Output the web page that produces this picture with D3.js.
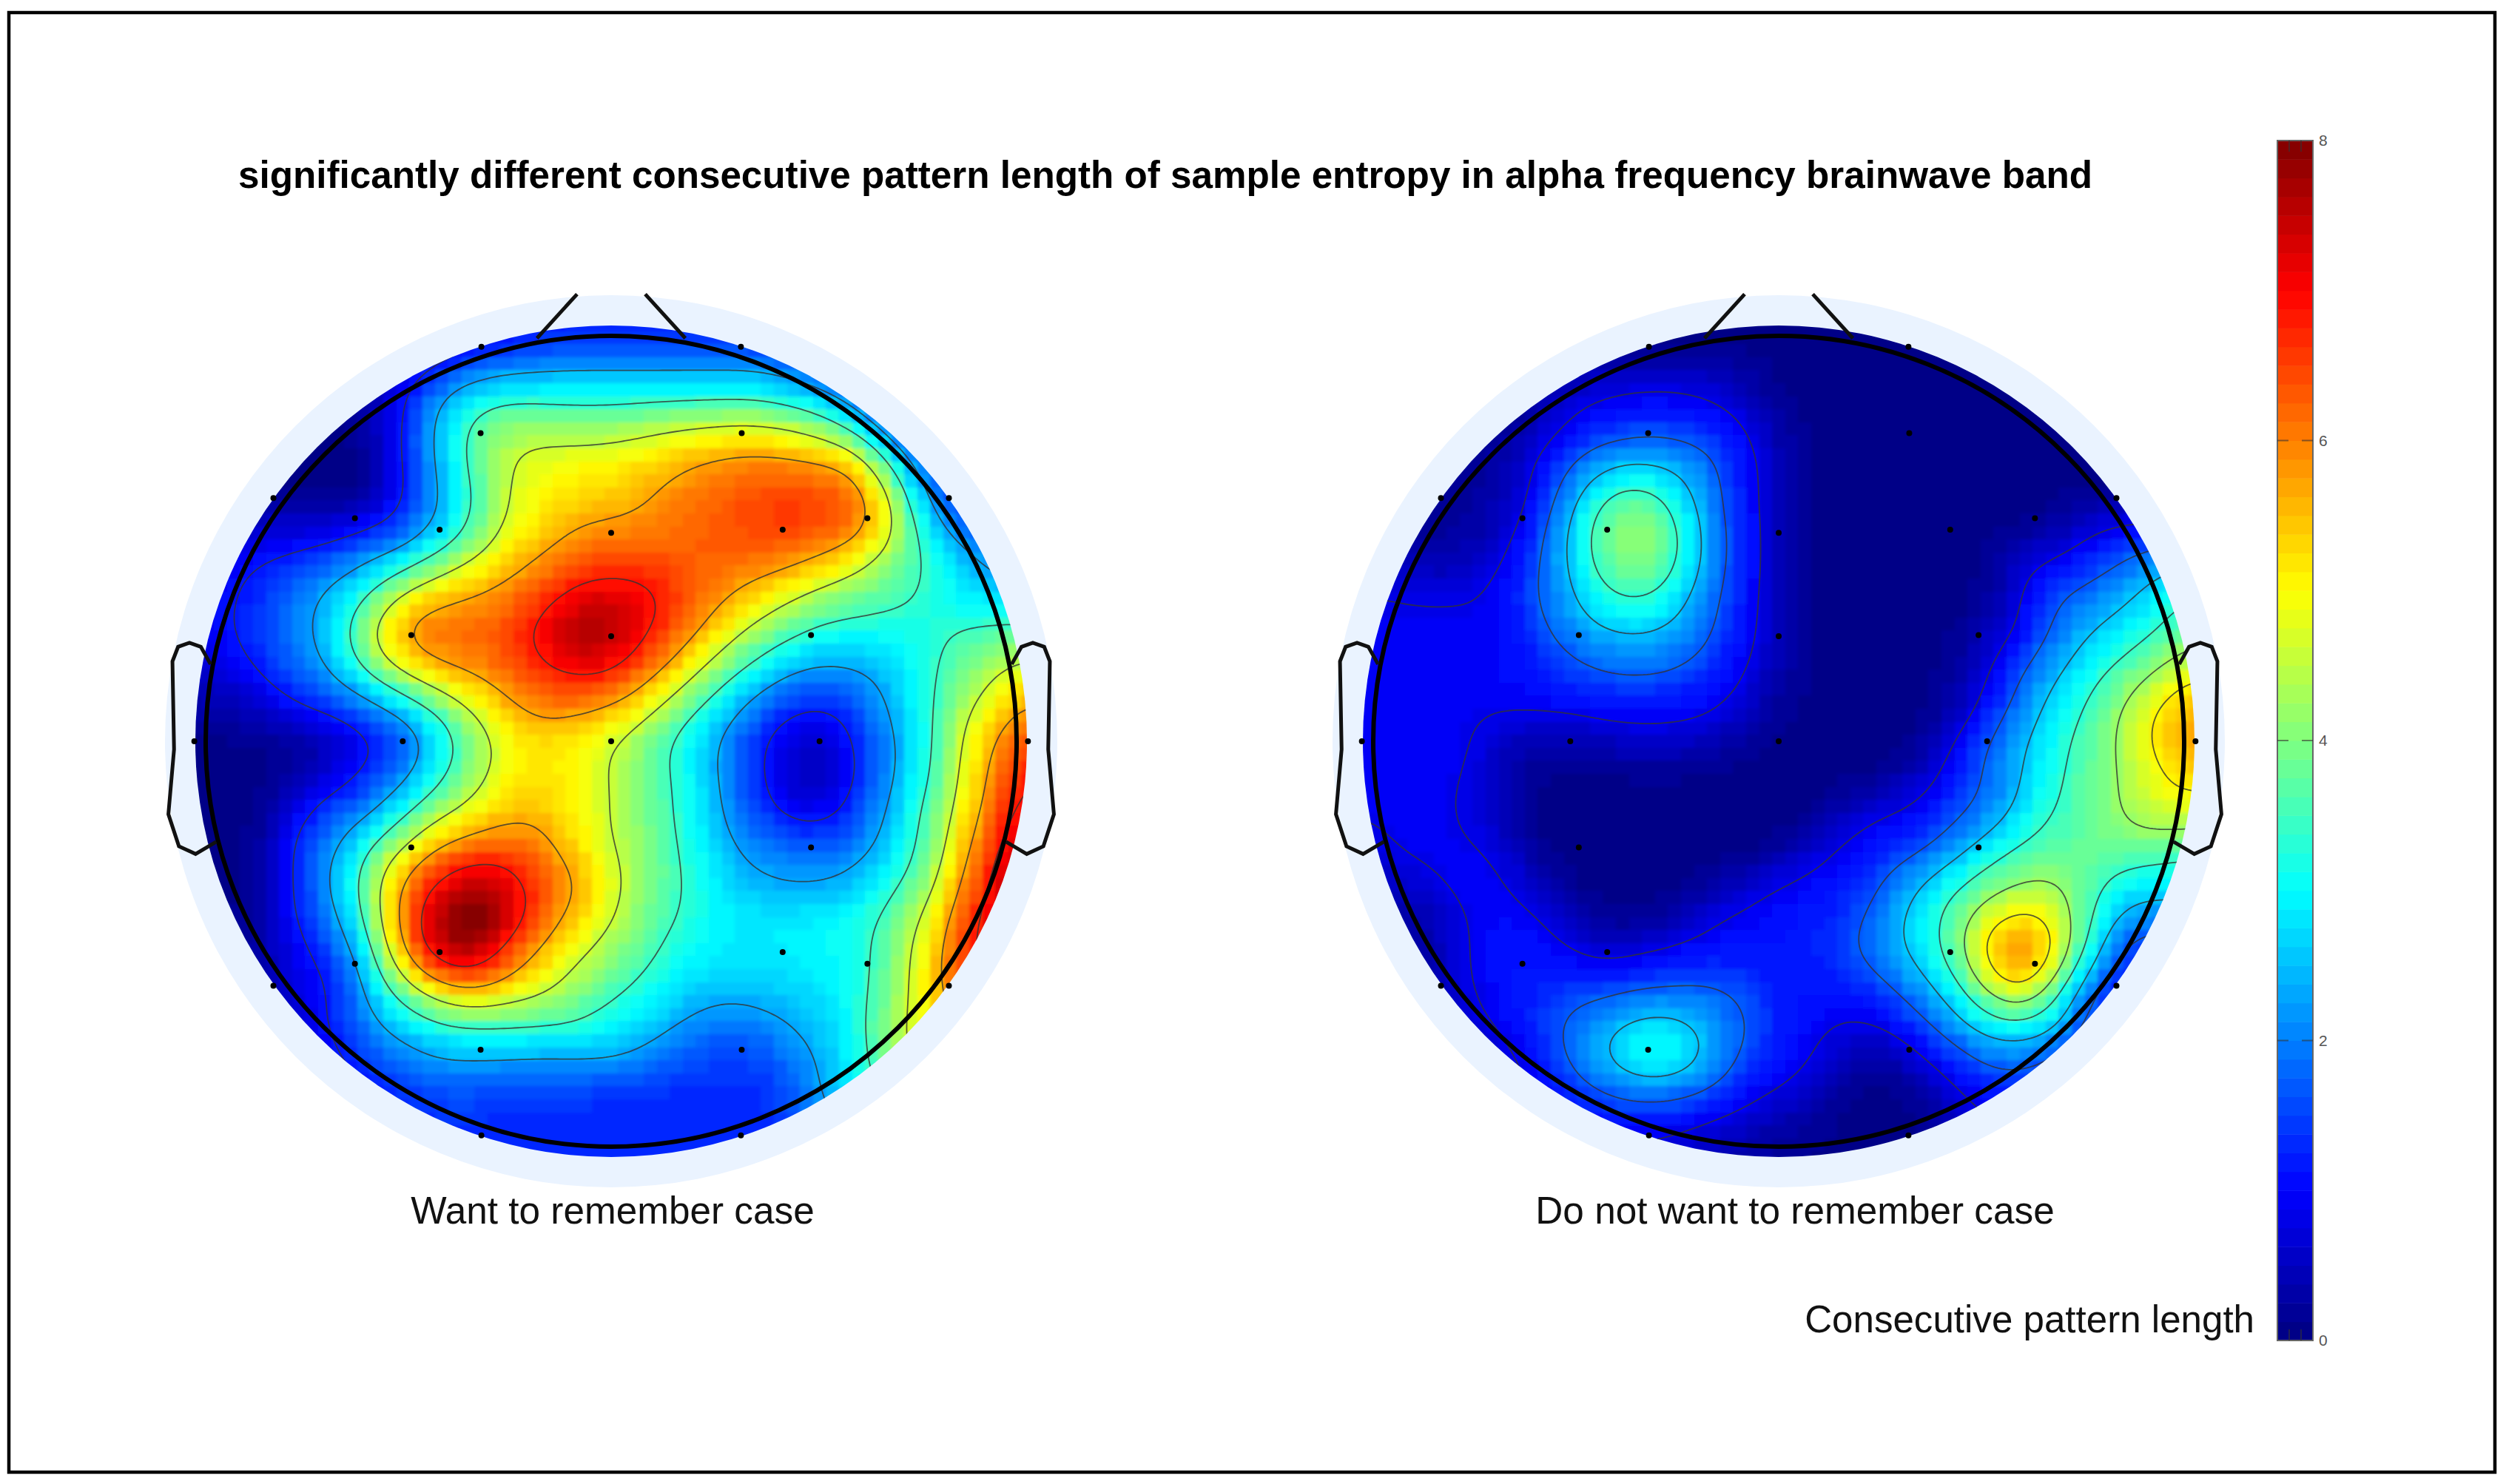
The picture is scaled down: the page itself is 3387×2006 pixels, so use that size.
<!DOCTYPE html>
<html>
<head>
<meta charset="utf-8">
<script src="https://cdnjs.cloudflare.com/ajax/libs/d3/7.8.5/d3.min.js"></script>
<style>
html, body { margin: 0; padding: 0; background: #fff; }
text { font-family: "Liberation Sans", Arial, sans-serif; }
</style>
</head>
<body>
<div id="chart"></div>
<script>
const titleText = 'significantly different consecutive pattern length of sample entropy in alpha frequency brainwave band';
const panelNames = ['Want to remember case', 'Do not want to remember case'];
const colorbarLabel = 'Consecutive pattern length';
const colorbarTicks = [0, 2, 4, 6, 8];

// contour levels of each map
const wantLevels = [1.14, 2.29, 3.43, 4.57, 5.71, 6.86];
const dontLevels = [0.84, 1.69, 2.53, 3.37, 4.2, 5.06];

// electrode positions, in head radii
const elecX = [-.32, .32, -.833, .833, -.632, .632, -.322, .322, -.423, .423, 0, -.493, .493, 0, -1.028, -.514, 0, .514, 1.028, -.493, .493, -.632, .632, -.423, .423, -.833, .833, -.322, .322, -.32, .32];
const elecY = [.973, .973, .6, .6, .55, .55, .76, .76, .522, .522, .514, .262, .262, .259, 0, 0, 0, 0, 0, -.262, -.262, -.549, -.549, -.52, -.52, -.603, -.603, -.761, -.761, -.972, -.972];

// values on a 25 x 25 lattice, top row first
const wantRows = [
  [.3,.3,.3,.3,.3,.3,.3,.4,.8,.9,1,1.1,1.1,1.1,1.1,1.1,1,.9,.9,.9,.9,.9,.9,.9,.9],
  [.2,.2,.2,.2,.2,.2,.3,.7,1.1,1.4,1.6,1.7,1.7,1.7,1.7,1.7,1.7,1.5,1.2,1,.9,.9,.9,.9,.9],
  [.1,.1,.1,.1,.1,.2,.9,2,2.7,3,3,3,3,3,3,3,3,2.7,2.2,1.6,1.1,.9,.9,.9,.9],
  [.1,.1,.1,.1,.1,.2,1,2.4,3.6,4.2,4.1,4,4,4.2,4.4,4.5,4.6,4.4,3.9,2.7,1.4,1,.9,.9,.9],
  [.05,.05,.05,.05,.05,.1,1.1,2.3,3.7,4.5,4.9,5,5.1,5.3,5.6,5.9,6,5.9,5.7,5.4,2.9,1.6,1.2,1,1],
  [.1,.1,.1,.1,.05,.1,.9,2.2,3.3,4.6,5,5.2,5.3,5.6,6,6.2,6.4,6.6,6.5,6.2,4.6,1.9,1.3,1.2,1],
  [.6,.6,.6,.7,.7,1.1,1.5,2.4,3.5,4.8,5.2,5.8,5.9,6,6.2,6.3,6.5,6.6,6.4,6.2,4.7,3,1.7,1.9,1.9],
  [.8,.9,1.2,1.4,1.8,2.4,3,4,4.8,5.4,5.9,6.4,6.6,6.5,6.3,6.2,6.1,5.9,5.4,4.7,3.9,3.4,2.7,2,2],
  [.9,1,1.4,1.9,2.6,3.4,5,5.7,5.9,6.1,6.6,7.3,7.4,7.2,6.5,5.9,5.3,4.6,4,3.8,3.6,3.3,2.9,2.7,2.7],
  [.9,1,1.5,2,2.6,4.4,5.9,6.2,6.2,6.4,7.2,7.8,7.8,6.9,6.1,5.2,4.2,3.6,3.1,3,3,3.2,3.6,3.8,3.8],
  [.6,.7,1.2,1.7,2.3,3.4,4.7,5.6,5.9,6.2,6.7,7,7,6.1,5.2,4,3.2,2.4,2.1,2.3,2.6,3.3,3.8,4.5,5],
  [.3,.3,.6,1.1,1.4,1.9,2.6,3.6,4.7,5.5,6.1,6,5.7,5,3.9,3,2,1.3,1.1,1.5,2.5,3.2,4.3,5.2,5.9],
  [.1,.1,.1,.2,.3,.9,1.5,2.6,3.9,4.9,5.2,5,4.6,3.9,3.1,2.3,1.4,.7,.5,1.2,2.2,3.2,4.6,5.9,6.6],
  [.05,.05,.05,.2,.7,1.3,1.9,3.1,4.2,5,5.3,5,4.6,3.9,3.3,2.3,1.5,.5,.4,1.1,2.2,3.3,4.7,6.2,7],
  [.05,.05,.1,.8,1.6,1.9,3.1,4.2,4.8,5.4,5.5,5,4.6,3.9,3.3,2.4,1.6,.9,.7,1.5,2.5,3.7,4.9,6.5,7.3],
  [.05,.05,.1,1.3,2,3.3,4.4,5.7,6.2,6.4,6,5.2,4.6,4,3.4,2.6,2.1,1.9,1.8,2,2.6,3.8,5.3,7,7.6],
  [.05,.05,.1,1.2,2.4,3.7,5.8,6.9,7.6,7.3,6.4,5.8,4.9,4,3.5,2.8,2.4,2.2,2.2,2.5,3.2,4.1,5.8,7.3,7.8],
  [.2,.1,.2,1.2,1.9,3.5,6,7.6,8.4,7.7,6.4,5.4,4.7,3.8,3.4,3,2.9,2.9,3,3.1,3.7,4.8,6.3,7.5,7.8],
  [.2,.2,.3,.8,1.6,2.6,5.7,7.5,8,6.5,5.5,4.7,4.2,3.6,3.1,2.8,2.8,2.9,3,3.1,3.9,5.2,6.5,7.6,7.8],
  [.2,.2,.3,.7,1,2.3,3.9,5.3,6,5.4,4.9,4.2,3.7,3.2,2.8,2.6,2.6,2.7,2.8,3.1,4,5.2,6.5,7,7],
  [.3,.3,.3,.7,1.2,2,2.7,3.3,3.6,3.6,3.6,3.5,3,2.7,2.3,1.9,2,2.3,2.7,3.1,4.3,5,6,6.5,6.5],
  [.4,.4,.4,.4,.9,1.5,1.9,2.3,2.3,2.3,2.2,2.3,2.4,2.1,1.6,1.5,1.5,1.8,2.4,3,4.3,5,6,6,6],
  [.4,.4,.4,.4,.8,1,1.3,1.6,1.6,1.5,1.5,1.4,1.3,1.3,1.3,1.3,1.3,1.5,2.4,3,3.6,4,4,4,4],
  [.4,.4,.4,.4,.6,.9,1.2,1.3,1.3,1.3,1.3,1.3,1.3,1.3,1.3,1.3,1.3,1.4,2,2.5,3,3,3,3,3],
  [.4,.4,.4,.4,.6,.9,1.2,1.3,1.3,1.3,1.3,1.3,1.3,1.3,1.3,1.3,1.3,1.3,1.6,2,2.5,2.5,2.5,2.5,2.5]
];

const dontRows = [
  [.1,.1,.1,.1,.1,.1,.1,.1,.1,.1,.1,.1,.1,.1,.1,.1,.1,.1,.1,.1,.1,.1,.1,.1,.1],
  [.08,.08,.08,.08,.08,.08,.08,.08,.1,.1,.08,.08,.08,.08,.08,.08,.08,.08,.08,.08,.08,.08,.08,.08,.08],
  [.08,.08,.08,.08,.08,.2,.6,.8,.9,.9,.8,.45,.08,.08,.08,.08,.08,.08,.08,.08,.08,.08,.08,.08,.08],
  [.08,.08,.08,.08,.08,.3,.85,1.1,1.3,1.3,1.1,.9,.2,.08,.08,.08,.08,.08,.08,.08,.08,.08,.08,.08,.08],
  [.2,.2,.2,.2,.3,.8,1.5,2.2,2.4,2.3,1.9,1.1,.45,.08,.08,.08,.08,.08,.08,.08,.08,.08,.08,.08,.08],
  [.2,.2,.2,.2,.3,.8,2.1,3.4,3.8,3.1,2,1.1,.45,.08,.08,.08,.08,.08,.08,.08,.08,.08,.08,.08,.08],
  [.2,.2,.2,.2,.45,1.2,2.6,3.9,4.3,3.7,2.2,1.2,.45,.08,.08,.08,.08,.08,.08,.08,.3,.84,1,1.1,1.1],
  [.6,.6,.3,.45,.75,1.5,2.5,3.8,4.2,3.6,2.2,1.2,.45,.08,.08,.08,.08,.08,.08,.8,1,1.4,1.9,2.4,2.6],
  [.9,.9,.9,.9,.95,1.6,2.3,3.1,3.4,2.9,1.9,1.1,.45,.08,.08,.08,.08,.08,.2,.9,1.8,2.1,2.5,3.2,3.6],
  [.9,.9,.9,.9,.9,1.3,2,2.4,2.5,2.3,1.8,1.05,.45,.08,.08,.08,.08,.08,.45,1,2,2.6,3.1,3.5,4],
  [.9,.9,1,1,1,1.1,1.4,1.7,1.8,1.7,1.3,.9,.3,.08,.08,.08,.08,.2,.8,1.8,2.5,3.2,3.7,4.4,5],
  [.9,.9,.9,.9,.9,1,1,1.1,1.1,1.05,1,.6,.2,.08,.08,.08,.08,.2,1.1,2.1,2.9,3.6,4.4,5.3,5.8],
  [1,1,1,.95,.6,.3,.3,.45,.6,.6,.45,.2,.05,.05,.05,.05,.08,.85,1.8,2.5,3.2,3.8,4.5,5.6,5.8],
  [.9,.95,.9,.9,.45,.15,.08,.08,.08,.08,.08,.05,.05,.05,.05,.08,.45,1.2,1.8,2.6,3.3,3.9,4.3,5.1,5.3],
  [.9,.9,.9,.85,.45,.08,.05,.05,.05,.05,.05,.05,.05,.05,.45,.85,1,1.5,1.9,2.9,3.5,3.8,4.4,4.8,4.8],
  [.6,.9,.9,.9,.75,.15,.05,.05,.05,.05,.05,.05,.05,.6,1,1.2,1.4,2.1,3,3.5,3.7,3.8,3.9,3.7,3.5],
  [.3,.6,.8,1,1,.45,.08,.08,.08,.08,.08,.45,.85,1,1.1,1.7,2.5,3.2,3.7,4.2,4.2,3.6,3,3,3],
  [.2,.2,.3,.85,1,1,.45,.08,.08,.2,.8,1,1.1,1.2,1.4,2.1,2.9,3.7,4.8,5.3,4.7,3.2,2.2,2.1,2.1],
  [.2,.2,.3,.8,1.1,1.1,.95,.6,.8,1,1.05,1.1,1.1,1.2,1.6,2.2,2.8,3.8,5.6,6.4,5,2.7,1.3,1.2,1.2],
  [.3,.3,.3,.75,1.1,1.2,1.4,1.4,1.6,1.6,1.8,1.5,1.2,1.2,1.1,1.5,2.2,3,4.5,5.4,3.4,1.6,.9,.9,.9],
  [.3,.3,.3,.6,.9,1.3,1.8,2.2,2.7,2.8,2.2,1.8,1.2,.95,.85,.95,1.5,2.3,3.1,3.3,2.6,1.2,.9,.9,.9],
  [.45,.45,.45,.45,.6,1,1.8,2.6,3.4,3.3,2.5,1.5,1.2,.9,.3,.2,.7,1.3,1.9,1.9,1.5,.9,.8,.8,.8],
  [.45,.45,.45,.45,.6,.8,1.2,1.6,1.9,1.9,1.6,1.1,.8,.45,.08,.08,.2,.7,1.2,1.3,1,.8,.8,.8,.8],
  [.45,.45,.45,.45,.6,.8,.9,1,1,.9,.6,.45,.25,.15,.08,.08,.08,.3,.8,.8,.8,.8,.8,.8,.8],
  [.4,.4,.4,.4,.4,.5,.6,.6,.6,.5,.4,.3,.2,.08,.08,.08,.08,.2,.45,.5,.5,.5,.5,.5,.5]
];

const width = 3387, height = 2006;
const headR = 548, mapR = 562, ringR = 603, headCy = 1002;
const latticeExtent = 1.04; // lattice half width, in head radii
const nCells = 71;
const nFine = 240;

// matlab jet, 64 steps
function jet(t) {
    const c = v => Math.round(255 * Math.max(0, Math.min(1, v)));
    return d3.rgb(c(1.5 - Math.abs(4 * t - 3)), c(1.5 - Math.abs(4 * t - 2)), c(1.5 - Math.abs(4 * t - 1))).formatHex();
}
const jetColors = d3.range(64).map(i => jet((i + .5) / 64));
const colorScale = d3.scaleQuantize().domain([0, 8]).range(jetColors);

const svg = d3.select('#chart').append('svg')
    .attr('width', width)
    .attr('height', height)
    .attr('viewBox', [0, 0, width, height]);

svg.append('rect').attr('width', width).attr('height', height).attr('fill', '#fff');
svg.append('rect')
    .attr('x', 12).attr('y', 17)
    .attr('width', 3360).attr('height', 1973)
    .attr('fill', 'none').attr('stroke', '#000').attr('stroke-width', 4.5);

const defs = svg.append('defs');
defs.append('filter').attr('id', 'soft')
    .attr('x', '-5%').attr('y', '-5%').attr('width', '110%').attr('height', '110%')
    .append('feGaussianBlur').attr('stdDeviation', 2);

svg.append('text')
    .attr('x', 1575).attr('y', 254)
    .attr('text-anchor', 'middle')
    .attr('font-size', 51.2).attr('font-weight', 'bold').attr('fill', '#000')
    .text(titleText);

// catmull-rom on the read lattice, u and v in lattice steps
function cr(a, b, c, d, t) {
    return b + .5 * t * (c - a + t * (2 * a - 5 * b + 4 * c - d + t * (3 * (b - c) + d - a)));
}
function sampler(rows) {
    const n = rows.length;
    const at = (i, j) => rows[Math.max(0, Math.min(n - 1, i))][Math.max(0, Math.min(n - 1, j))];
    return function(u, v) {
        const j = Math.floor(u), i = Math.floor(v), fu = u - j, fv = v - i;
        const col = [-1, 0, 1, 2].map(di => cr(at(i + di, j - 1), at(i + di, j), at(i + di, j + 1), at(i + di, j + 2), fu));
        return cr(col[0], col[1], col[2], col[3], fv);
    };
}

function drawHead(rows, levels, cx, name, idx, labelX) {
    const x = d3.scaleLinear().domain([-1, 1]).range([cx - headR, cx + headR]);
    const y = d3.scaleLinear().domain([-1, 1]).range([headCy + headR, headCy - headR]);
    const g = svg.append('g').attr('class', 'head');
    const sample = sampler(rows);
    // lattice position of a head coordinate
    const lat = d3.scaleLinear().domain([-latticeExtent, latticeExtent]).range([0, rows.length - 1]);

    // smooth raster of the read values, used by cells and contour lines
    const fine = d3.scaleLinear().domain([0, nFine]).range([-latticeExtent, latticeExtent]);
    const raster = [];
    for (let r = 0; r < nFine; r++) {
        for (let c = 0; c < nFine; c++) {
            raster.push(sample(lat(fine(c + .5)), lat(fine(r + .5))));
        }
    }
    d3.blur2({ data: raster, width: nFine, height: nFine }, 5);

    g.append('circle').attr('cx', cx).attr('cy', headCy).attr('r', ringR).attr('fill', '#eaf3ff');

    defs.append('clipPath').attr('id', 'disc' + idx)
        .append('circle').attr('cx', cx).attr('cy', headCy).attr('r', mapR);

    // heat cells
    const cellUnit = 17.6 / headR;
    const cells = [];
    d3.range(nCells).forEach(r => {
        d3.range(nCells).forEach(c => {
            const hx = (c - (nCells - 1) / 2) * cellUnit;
            const hy = ((nCells - 1) / 2 - r) * cellUnit;
            if (Math.hypot(hx, hy) > mapR / headR + 3 * cellUnit) return;
            const col = Math.max(0, Math.min(nFine - 1, Math.floor(fine.invert(hx))));
            const row = Math.max(0, Math.min(nFine - 1, Math.floor(fine.invert(-hy))));
            cells.push({ hx, hy, v: raster[row * nFine + col] });
        });
    });
    g.append('g')
        .attr('clip-path', `url(#disc${idx})`)
        .append('g')
        .attr('filter', 'url(#soft)')
        .selectAll('rect')
        .data(cells)
        .enter()
        .append('rect')
        .attr('x', d => x(d.hx - cellUnit / 2))
        .attr('y', d => y(d.hy + cellUnit / 2))
        .attr('width', x(cellUnit) - x(0) + .5)
        .attr('height', x(cellUnit) - x(0) + .5)
        .attr('shape-rendering', 'crispEdges')
        .attr('fill', d => colorScale(Math.max(0, Math.min(7.999, d.v))));

    // contour lines
    const contours = d3.contours().size([nFine, nFine]).thresholds(levels)(raster);
    const path = d3.geoPath(d3.geoTransform({
        point: function(px, py) { this.stream.point(x(fine(px)), y(-fine(py))); }
    }));
    g.append('g')
        .attr('clip-path', `url(#disc${idx})`)
        .selectAll('path')
        .data(contours)
        .enter()
        .append('path')
        .attr('d', path)
        .attr('fill', 'none')
        .attr('stroke', '#333')
        .attr('stroke-opacity', .8)
        .attr('stroke-width', 1.8);

    // head outline, nose and ears
    g.append('circle').attr('cx', cx).attr('cy', headCy).attr('r', headR)
        .attr('fill', 'none').attr('stroke', '#000').attr('stroke-width', 6);

    const line = d3.line().x(d => x(d[0])).y(d => y(d[1]));
    const nose = [[-.183, .994], [-.084, 1.103]];
    const ear = [[-.988, .19], [-1.012, .233], [-1.04, .243], [-1.068, .233], [-1.082, .197], [-1.078, -.02], [-1.092, -.18], [-1.066, -.259], [-1.025, -.278], [-.974, -.248]];
    [nose, nose.map(p => [-p[0], p[1]]), ear, ear.map(p => [-p[0], p[1]])].forEach(shape => {
        g.append('path').attr('d', line(shape))
            .attr('fill', 'none').attr('stroke', '#111').attr('stroke-width', 5);
    });

    // electrodes
    g.append('g').selectAll('circle')
        .data(elecX.map((e, i) => [e, elecY[i]]))
        .enter()
        .append('circle')
        .attr('cx', d => x(d[0]))
        .attr('cy', d => y(d[1]))
        .attr('r', 4)
        .attr('fill', '#000');

    g.append('text')
        .attr('x', labelX).attr('y', 1654)
        .attr('text-anchor', 'middle')
        .attr('font-size', 51.3).attr('fill', '#111')
        .text(name);
}

drawHead(wantRows, wantLevels, 826, panelNames[0], 0, 828);
drawHead(dontRows, dontLevels, 2404, panelNames[1], 1, 2426);

// colorbar
const barX = 3078, barW = 48, barTop = 190, barBottom = 1812;
const barScale = d3.scaleLinear().domain([0, 8]).range([barBottom, barTop]);
const bar = svg.append('g').attr('class', 'colorbar');
bar.selectAll('rect')
    .data(jetColors)
    .enter()
    .append('rect')
    .attr('x', barX)
    .attr('y', (d, i) => barScale((i + 1) / 8))
    .attr('width', barW)
    .attr('height', barScale(0) - barScale(1 / 8) + .5)
    .attr('fill', d => d);
bar.append('rect')
    .attr('x', barX).attr('y', barTop)
    .attr('width', barW).attr('height', barBottom - barTop)
    .attr('fill', 'none').attr('stroke', '#666').attr('stroke-width', 2);

const barAxis = d3.axisRight(barScale).tickValues(colorbarTicks).tickSize(0).tickPadding(8).tickFormat(d3.format('d'));
const axisG = bar.append('g').attr('transform', `translate(${barX + barW},0)`).call(barAxis);
axisG.select('.domain').remove();
axisG.selectAll('text').attr('font-size', 21).attr('fill', '#555').attr('font-family', '"Liberation Sans", Arial, sans-serif');

// inner ticks
bar.append('g').selectAll('path')
    .data(colorbarTicks.slice(1, -1))
    .enter()
    .append('path')
    .attr('d', d => `M${barX},${barScale(d)}h15M${barX + barW},${barScale(d)}h-15`)
    .attr('stroke', '#333').attr('stroke-opacity', .6).attr('stroke-width', 2);
[[barBottom, -15], [barTop, 15]].forEach(t => {
    bar.append('path')
        .attr('d', `M${barX + 16},${t[0]}v${t[1]}M${barX + 32},${t[0]}v${t[1]}`)
        .attr('stroke', '#333').attr('stroke-opacity', .6).attr('stroke-width', 2);
});

svg.append('text')
    .attr('x', 3047).attr('y', 1801)
    .attr('text-anchor', 'end')
    .attr('font-size', 51.1).attr('fill', '#111')
    .text(colorbarLabel);
</script>
</body>
</html>
